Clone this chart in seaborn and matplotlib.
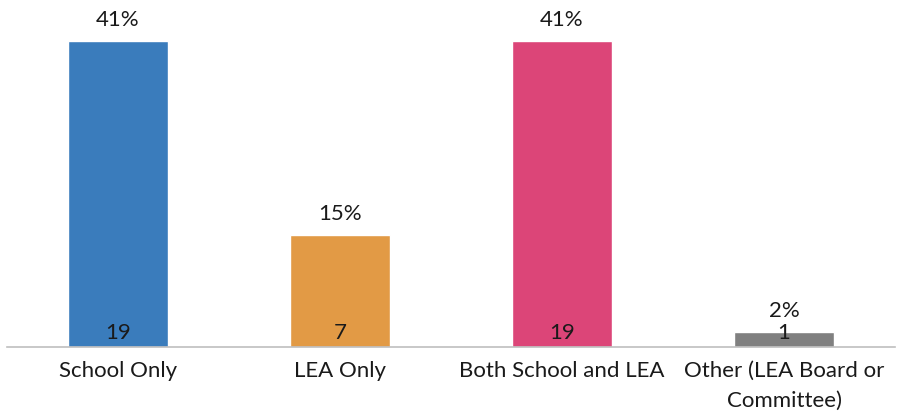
import matplotlib
matplotlib.use("Agg")
import matplotlib.pyplot as plt
import pandas as pd
import seaborn as sns

categories = ["School Only", "LEA Only", "Both School and LEA", "Other (LEA Board or\nCommittee)"]
percents = [41, 15, 41, 2]
counts = [19, 7, 19, 1]
colors = ["#3A7CBC", "#E29A45", "#DC4578", "#808080"]

df = pd.DataFrame({"category": categories, "percent": percents, "count": counts})

sns.set_theme(style="white")
plt.rcParams["font.family"] = ["Lato", "DejaVu Sans"]

fig = plt.figure(figsize=(9.06, 4.15), dpi=100)
ax = fig.add_axes([7 / 906, 68 / 415, 888 / 906, 336 / 415])

sns.barplot(data=df, x="category", y="percent", hue="category", palette=colors,
            width=0.446, legend=False, saturation=1, ax=ax)

ax.set_xlim(-0.5, 3.5)
ax.set_ylim(0, 45)

# percent labels above bars, counts near the bottom
for i, (p, c) in enumerate(zip(percents, counts)):
    ax.annotate(f"{p}%", (i, p), xytext=(0, 15), textcoords="offset points",
                ha="center", va="center", fontsize=16, color="#1a1a1a")
    ax.annotate(str(c), (i, 0), xytext=(0, 10), textcoords="offset points",
                ha="center", va="center", fontsize=16, color="#1a1a1a")

ax.set_xlabel("")
ax.set_ylabel("")
ax.set_yticks([])
ax.tick_params(axis="x", length=0, pad=10, labelsize=16, colors="#1a1a1a")
for lbl in ax.get_xticklabels():
    lbl.set_linespacing(1.6)
for s in ["top", "left", "right"]:
    ax.spines[s].set_visible(False)
ax.spines["bottom"].set_color("#BFBFBF")
ax.spines["bottom"].set_linewidth(1.2)

fig.savefig("out.png", dpi=100)
